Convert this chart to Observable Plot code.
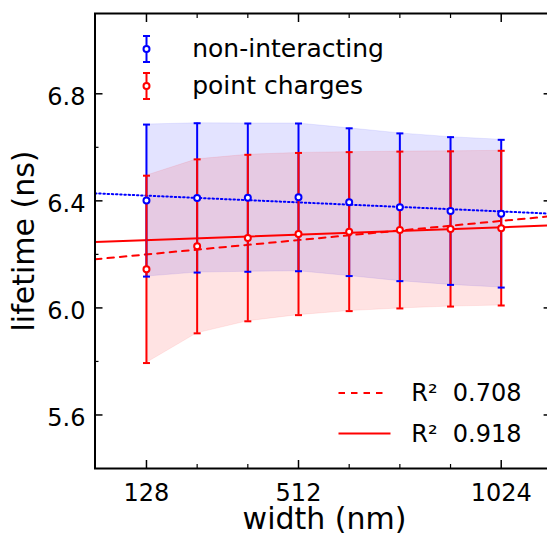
<!DOCTYPE html>
<html>
<head>
<meta charset="utf-8">
<script src="https://cdn.jsdelivr.net/npm/d3@7"></script>
<script src="https://cdn.jsdelivr.net/npm/@observablehq/plot@0.6"></script>
<style>
html, body { margin: 0; padding: 0; background: #fff; overflow: hidden; }
#chart svg { display: block; }
</style>
</head>
<body>
<div id="chart"></div>
<script>
// ---------- data ----------
const widths = [128, 256, 384, 512, 640, 768, 896, 1024];
const nonInteracting    = [6.401, 6.411, 6.412, 6.413, 6.395, 6.376, 6.362, 6.352];
const nonInteractingErr = [0.284, 0.279, 0.277, 0.276, 0.276, 0.276, 0.276, 0.276];
const pointCharges      = [6.144, 6.230, 6.261, 6.276, 6.285, 6.291, 6.295, 6.298];
const pointChargesErr   = [0.350, 0.325, 0.311, 0.303, 0.297, 0.293, 0.290, 0.289];

const seriesNames = ["non-interacting", "point charges"];

// linear fits: lifetime = intercept + slope * width
const fitSeries     = ["non-interacting", "point charges", "point charges"];
const fitIntercepts = [6.428, 6.182, 6.246];
const fitSlopes     = [-6.6e-5, 1.396e-4, 5.4e-5];
const fitLabels     = [null, "R\u00B2  0.708", "R\u00B2  0.918"];

const xMajorTicks = [128, 512, 1024];
const xMinorTicks = [256, 384, 640, 768, 896];
const yMajorTicks = [5.6, 6.0, 6.4, 6.8];
const yMinorTicks = [5.8, 6.2, 6.6];
const xLimits = [-2, 1150];
const yLimits = [5.4, 7.1];

const xLabel = "width (nm)";
const yLabel = "lifetime (ns)";

// ---------- build tables ----------
const colorOf = {"non-interacting": "blue", "point charges": "red"};
const seriesValues = [nonInteracting, pointCharges];
const seriesErrs = [nonInteractingErr, pointChargesErr];
const tables = seriesNames.map((name, s) =>
  widths.map((w, i) => ({series: name, x: w, y: seriesValues[s][i], e: seriesErrs[s][i]}))
);
const fitTables = fitSeries.map((name, f) =>
  xLimits.map(x => ({series: name, x, y: fitIntercepts[f] + fitSlopes[f] * x}))
);

// custom symbols
const capSymbol = {draw(ctx) { ctx.moveTo(-3.5, 0); ctx.lineTo(3.5, 0); }};
const errSymbol = {draw(ctx) {
  ctx.moveTo(0, -13); ctx.lineTo(0, 13);
  ctx.moveTo(-3.5, -13); ctx.lineTo(3.5, -13);
  ctx.moveTo(-3.5, 13); ctx.lineTo(3.5, 13);
}};
const lineSymbol = (half) => ({draw(ctx) { ctx.moveTo(-half, 0); ctx.lineTo(half, 0); }});

const marks = [];

// bands
tables.forEach((t, s) => {
  const c = colorOf[seriesNames[s]];
  marks.push(Plot.areaY(t, {x: "x", y1: d => d.y - d.e, y2: d => d.y + d.e,
    fill: c, fillOpacity: 0.11, stroke: c, strokeOpacity: 0.08, strokeWidth: 1}));
});

// fit lines
const fitStyles = [
  {dash: "1.5,2.7"},
  {dash: "6.5,6"},
  {dash: null}
];
fitTables.forEach((t, f) => {
  marks.push(Plot.line(t, {x: "x", y: "y", stroke: colorOf[fitSeries[f]], strokeWidth: 2,
    strokeDasharray: fitStyles[f].dash, clip: true}));
});

// error bars
tables.forEach((t, s) => {
  marks.push(Plot.ruleX(t, {x: "x", y1: d => d.y - d.e, y2: d => d.y + d.e,
    stroke: colorOf[seriesNames[s]], strokeWidth: 2}));
});
tables.forEach((t, s) => {
  const caps = t.flatMap(d => [{x: d.x, y: d.y - d.e}, {x: d.x, y: d.y + d.e}]);
  marks.push(Plot.dot(caps, {x: "x", y: "y", symbol: capSymbol, r: 4,
    stroke: colorOf[seriesNames[s]], strokeWidth: 2, fill: "none"}));
});
tables.forEach((t, s) => {
  marks.push(Plot.dot(t, {x: "x", y: "y", r: 3, fill: "white",
    stroke: colorOf[seriesNames[s]], strokeWidth: 2}));
});

// axes: labels
marks.push(Plot.axisX(xMajorTicks, {anchor: "bottom", tickSize: 0, tickPadding: 15.5,
  fontSize: 24, label: null, tickFormat: d => String(d)}));
marks.push(Plot.axisY(yMajorTicks, {anchor: "left", tickSize: 0, tickPadding: 9.5,
  fontSize: 24, dy: 3.5, label: null, tickFormat: d => d.toFixed(1)}));
// axes: inward ticks
for (const a of ["bottom", "top"]) {
  marks.push(Plot.axisX(xMajorTicks, {anchor: a, tickSize: -8, strokeWidth: 1.5, fill: "none"}));
  marks.push(Plot.axisX(xMinorTicks, {anchor: a, tickSize: -4, strokeWidth: 1.2, fill: "none"}));
}
for (const a of ["left", "right"]) {
  marks.push(Plot.axisY(yMajorTicks, {anchor: a, tickSize: -8, strokeWidth: 1.5, fill: "none"}));
  marks.push(Plot.axisY(yMinorTicks, {anchor: a, tickSize: -4, strokeWidth: 1.2, fill: "none"}));
}

// axis titles
marks.push(Plot.text([xLabel], {text: d => d, frameAnchor: "bottom", dx: 1.5, dy: 50.4,
  fontSize: 30, lineAnchor: "middle", textAnchor: "middle"}));
marks.push(Plot.text([yLabel], {text: d => d, frameAnchor: "left", dx: -70.8, rotate: -90,
  fontSize: 30, lineAnchor: "middle", textAnchor: "middle"}));

// legend (upper left): series
seriesNames.forEach((name, s) => {
  const dy = 35.5 + s * 37;
  const c = colorOf[name];
  marks.push(Plot.dot([name], {frameAnchor: "top-left", dx: 51.5, dy, symbol: errSymbol, r: 4,
    stroke: c, strokeWidth: 2, fill: "none"}));
  marks.push(Plot.dot([name], {frameAnchor: "top-left", dx: 51.5, dy, r: 3, fill: "white",
    stroke: c, strokeWidth: 2}));
  marks.push(Plot.text([name], {text: d => d, frameAnchor: "top-left", dx: 97.2, dy,
    fontSize: 25, textAnchor: "start", lineAnchor: "middle"}));
});

// legend (lower right): fits
const fitLegend = fitLabels.map((l, f) => ({f, l})).filter(d => d.l !== null);
fitLegend.forEach((d, k) => {
  const dy = -75.5 + k * 40.5;
  const half = fitStyles[d.f].dash ? 22.5 : 26;
  const cx = fitStyles[d.f].dash ? -190.1 : -186.6;
  marks.push(Plot.dot([d.l], {frameAnchor: "bottom-right", dx: cx, dy, symbol: lineSymbol(half), r: 4,
    stroke: colorOf[fitSeries[d.f]], strokeWidth: 2, fill: "none",
    strokeDasharray: fitStyles[d.f].dash}));
  marks.push(Plot.text([d.l], {text: t => t, frameAnchor: "bottom-right", dx: -139.9, dy: dy + 0.5,
    fontSize: 24, textAnchor: "start", lineAnchor: "middle"}));
});

// frame
marks.push(Plot.frame({stroke: "black", strokeWidth: 2}));

const chart = Plot.plot({
  width: 547,
  height: 536,
  marginLeft: 94.5,
  marginRight: -3.6,
  marginTop: 13,
  marginBottom: 68,
  style: {fontFamily: "DejaVu Sans", background: "white", color: "black", overflow: "hidden"},
  x: {type: "linear", domain: xLimits},
  y: {type: "linear", domain: yLimits},
  marks
});
document.getElementById("chart").appendChild(chart);
</script>
</body>
</html>
